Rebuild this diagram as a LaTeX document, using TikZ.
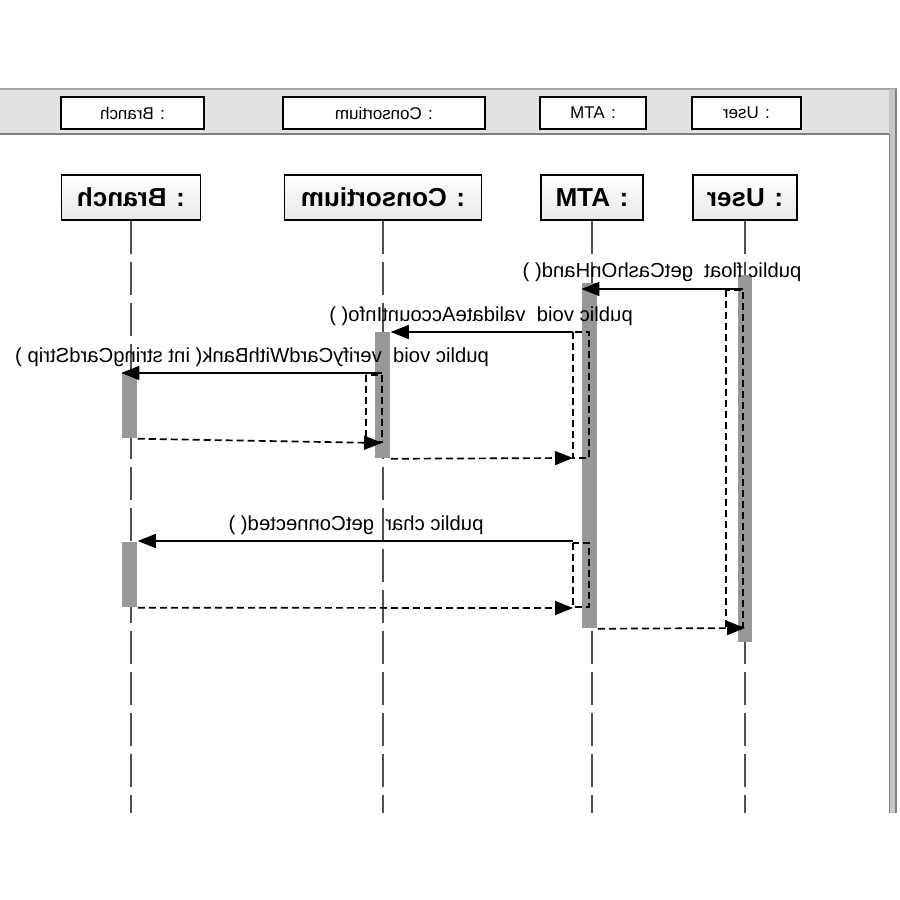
\documentclass[tikz,border=0pt]{standalone}
\usepackage{fontspec}
\setmainfont{Liberation Sans}
\usetikzlibrary{arrows.meta}
\definecolor{actgray}{RGB}{152,152,152}
\definecolor{bargray}{RGB}{226,226,226}
\definecolor{rimgray}{RGB}{165,165,165}
\definecolor{lifegray}{RGB}{80,80,80}
\tikzset{every picture/.style={line width=1.5pt}}
\tikzset{
    headbox/.style={draw=black, fill=white, line width=1.6pt, minimum height=32pt, inner sep=0pt, xscale=-1, font=\fontsize{17}{19}\selectfont},
    objbox/.style={draw=black, top color=white, bottom color=gray!18, line width=1.6pt, minimum height=45pt, inner sep=0pt, xscale=-1, font=\bfseries\fontsize{26}{29}\selectfont},
    lifeline/.style={draw=lifegray, line width=1.2pt, dash pattern=on 33pt off 8pt},
    actbar/.style={fill=actgray, draw=none, minimum width=15pt, inner sep=0pt},
    msg/.style={-{Triangle[length=18pt,width=14pt]}, line width=1.4pt},
    ret/.style={-{Triangle[length=18pt,width=14pt]}, line width=1.7pt, dash pattern=on 7pt off 4pt},
    retbox/.style={line width=1.7pt, dash pattern=on 7pt off 4pt},
    msglabel/.style={xscale=-1, inner sep=0pt, font=\fontsize{20.3}{23}\selectfont}}
\def\lifeend{813}

\begin{document}
\begin{tikzpicture}[x=1pt,y=1pt,yscale=-1,xscale=1]
            \useasboundingbox (0,0) rectangle (900,900);

            %Frame
            \fill[bargray] (0,88) rectangle (897,134);
            \draw[rimgray, line width=2.5pt] (0,89) -- (897,89);
            \draw[gray, line width=2pt] (0,134) -- (889,134);
            \fill[gray!45] (889,89) rectangle (897,\lifeend);
            \draw[gray, line width=1.2pt] (889.5,134) -- (889.5,\lifeend);
            \draw[gray, line width=1.2pt] (896,89) -- (896,\lifeend);

            %Header boxes
            \node[headbox, minimum width=143pt] (hBranch) at (132.5,113) {: Branch};
            \node[headbox, minimum width=202pt] (hCons) at (384,113) {: Consortium};
            \node[headbox, minimum width=106pt] (hATM) at (593,113) {: ATM};
            \node[headbox, minimum width=109pt] (hUser) at (746.5,113) {: User};

            %Objects
            \node[objbox, minimum width=139pt] (oBranch) at (131,197.5) {: Branch};
            \node[objbox, minimum width=197pt] (oCons) at (383,197.5) {: Consortium};
            \node[objbox, minimum width=102pt] (oATM) at (592,197.5) {: ATM};
            \node[objbox, minimum width=104pt] (oUser) at (745,197.5) {: User};

            %Lifelines
            \coordinate (eBranch) at (131,\lifeend);
            \coordinate (eCons) at (383,\lifeend);
            \coordinate (eATM) at (592,\lifeend);
            \coordinate (eUser) at (745,\lifeend);
            \draw[lifeline] (oBranch.south) -- (eBranch);
            \draw[lifeline] (oCons.south) -- (eCons);
            \draw[lifeline] (oATM.south) -- (eATM);
            \draw[lifeline] (oUser.south) -- (eUser);

            %Activations
            \node[actbar, minimum width=14pt, minimum height=367pt] (aUser) at (745,458.5) {};
            \node[actbar, minimum height=345pt] (aATM) at (589.5,455.5) {};
            \node[actbar, minimum height=126pt] (aCons) at (382.5,395) {};
            \node[actbar, minimum height=66pt] (aBranchA) at (129.5,405) {};
            \node[actbar, minimum height=65pt] (aBranchB) at (129.5,574.5) {};

            %Calls
            \coordinate (cUser) at (743,289);
            \coordinate (cATMa) at (573,332);
            \coordinate (cCons) at (382,373);
            \coordinate (cATMb) at (573,541);
            \draw[msg] (cUser) -- (aATM.west |- cUser);
            \draw[msg] (cATMa) -- (aCons.east |- cATMa);
            \draw[msg] (cCons) -- (aBranchA.west |- cCons);
            \draw[msg] (cATMb) -- (aBranchB.east |- cATMb);
            \node[msglabel] (lCash) at (662,272) {public float~ getCashOnHand( )};
            \node[msglabel] (lValid) at (481,316) {public void~ validateAccountInfo( )};
            \node[msglabel] (lVerify) at (252,357) {public void~ verifyCardWithBank( int stringCardStrip )};
            \node[msglabel] (lConn) at (356,525) {public char~ getConnected( )};

            %Returns
            \draw[retbox] (726,290) rectangle (743,627);
            \draw[retbox] (573,332) rectangle (589,458);
            \draw[retbox] (366,375) rectangle (382,442);
            \draw[retbox] (573,543) rectangle (589,607);
            \coordinate (rUser) at (745,628);
            \coordinate (rATMa) at (573,458);
            \coordinate (rCons) at (382,443);
            \coordinate (rATMb) at (573,608);
            \draw[ret] (aATM.south east) -- (rUser);
            \draw[ret] (aCons.south east) -- (rATMa);
            \draw[ret] (aBranchA.south east) -- (rCons);
            \draw[ret] (aBranchB.south east) -- (rATMb);
        \end{tikzpicture}
\end{document}
